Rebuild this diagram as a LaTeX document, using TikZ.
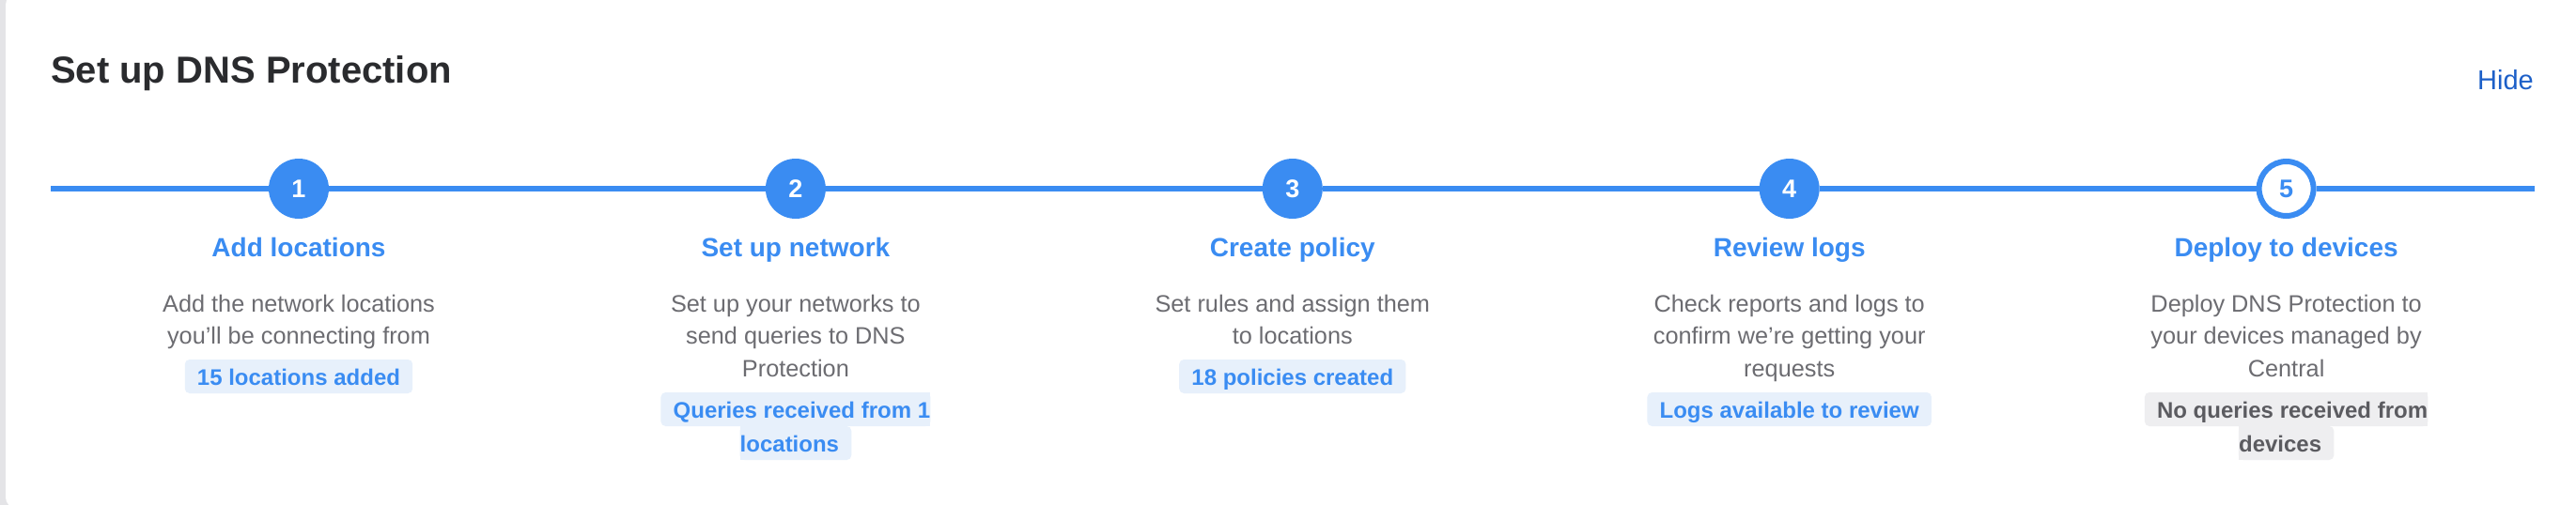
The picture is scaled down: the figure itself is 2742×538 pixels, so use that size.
\documentclass[tikz,border=0pt]{standalone}
\usepackage{fontspec}
\setmainfont{Liberation Sans}
\usetikzlibrary{backgrounds}
\definecolor{stepblue}{HTML}{3A8CF2}
\definecolor{hideblue}{HTML}{1C5FC8}
\definecolor{titledark}{HTML}{2A2B2E}
\definecolor{descgray}{HTML}{6C6C71}
\definecolor{badgeblue}{HTML}{E7F0FB}
\definecolor{badgegray}{HTML}{EEEEF0}
\definecolor{badgegraytext}{HTML}{5B5B60}
\definecolor{shadowgray}{HTML}{E4E4E7}
\tikzset{
  txt/.style={inner sep=0pt, anchor=base},
  maintitle/.style={txt, anchor=base west, text=titledark, font=\fontsize{40}{48}\selectfont\bfseries},
  hidelink/.style={txt, anchor=base east, text=hideblue, font=\fontsize{29}{35}\selectfont},
  steptitle/.style={txt, text=stepblue, font=\fontsize{28}{34}\selectfont\bfseries},
  desc/.style={txt, text=descgray, font=\fontsize{25.3}{30}\selectfont},
  badgetxt/.style={txt, text=stepblue, font=\fontsize{24}{29}\selectfont\bfseries},
  badgegtxt/.style={txt, text=badgegraytext, font=\fontsize{24}{29}\selectfont\bfseries},
  stepdone/.style={circle, fill=stepblue, inner sep=0pt, minimum size=64pt, text=white, font=\fontsize{27}{32}\selectfont\bfseries},
  stepopen/.style={circle, draw=stepblue, line width=6pt, fill=white, inner sep=0pt, minimum size=58pt, text=stepblue, font=\fontsize{27}{32}\selectfont\bfseries},
  track/.style={stepblue, line width=6pt},
}
\begin{document}
\begin{tikzpicture}[x=1pt,y=-1pt]
\useasboundingbox (0,0) rectangle (2742,538);
\begin{scope}[on background layer]
  \fill[shadowgray] (0,0) rectangle (2742,538);
  \fill[white, rounded corners=11pt] (6,-6) rectangle (2790,541);
\end{scope}

\node[maintitle] (title) at (54,88.5) {Set up DNS Protection};
\node[hidelink] (hide) at (2697,95.5) {Hide};

% steps
\node[stepdone] (c1) at (318,201) {1};
\node[stepdone] (c2) at (846.9,201) {2};
\node[stepdone] (c3) at (1375.8,201) {3};
\node[stepdone] (c4) at (1904.7,201) {4};
\node[stepopen] (c5) at (2433.6,201) {5};
\coordinate (ls) at (54,201);
\coordinate (le) at (2698,201);
\draw[track] (ls) -- (c1);
\draw[track] (c1) -- (c2);
\draw[track] (c2) -- (c3);
\draw[track] (c3) -- (c4);
\draw[track] (c4) -- (c5);
\draw[track] (c5) -- (le);

% step 1
\node[steptitle] (t1) at (318,273) {Add locations};
\node[desc] (d1a) at (318,332) {Add the network locations};
\node[desc] (d1b) at (318,366.5) {you’ll be connecting from};
\node[badgetxt] (b1) at (318,410) {15 locations added};

% step 2
\node[steptitle] (t2) at (846.9,273) {Set up network};
\node[desc] (d2a) at (846.9,332) {Set up your networks to};
\node[desc] (d2b) at (846.9,366.5) {send queries to DNS};
\node[desc] (d2c) at (846.9,401) {Protection};
\node[badgetxt] (b2a) at (853.4,445) {Queries received from 1};
\node[badgetxt] (b2b) at (840.4,481) {locations};

% step 3
\node[steptitle] (t3) at (1375.8,273) {Create policy};
\node[desc] (d3a) at (1375.8,332) {Set rules and assign them};
\node[desc] (d3b) at (1375.8,366.5) {to locations};
\node[badgetxt] (b3) at (1375.8,410) {18 policies created};

% step 4
\node[steptitle] (t4) at (1904.7,273) {Review logs};
\node[desc] (d4a) at (1904.7,332) {Check reports and logs to};
\node[desc] (d4b) at (1904.7,366.5) {confirm we’re getting your};
\node[desc] (d4c) at (1904.7,401) {requests};
\node[badgetxt] (b4) at (1904.7,445) {Logs available to review};

% step 5
\node[steptitle] (t5) at (2433.6,273) {Deploy to devices};
\node[desc] (d5a) at (2433.6,332) {Deploy DNS Protection to};
\node[desc] (d5b) at (2433.6,366.5) {your devices managed by};
\node[desc] (d5c) at (2433.6,401) {Central};
\node[badgegtxt] (b5a) at (2440.1,445) {No queries received from};
\node[badgegtxt] (b5b) at (2427.1,481) {devices};

% badge backgrounds
\begin{scope}[on background layer]
  \foreach \b in {b1,b3,b4}{
    \fill[badgeblue, rounded corners=5pt] ([xshift=-13pt,yshift=-9pt]\b.base west) rectangle ([xshift=13pt,yshift=27pt]\b.base east);
  }
  % two-line blue badge
  \fill[badgeblue, rounded corners=5pt] ([xshift=-13pt,yshift=-9pt]b2a.base west) rectangle ([yshift=27pt]b2a.base east);
  \fill[badgeblue] ([xshift=-20pt,yshift=-9pt]b2a.base east) rectangle ([yshift=27pt]b2a.base east);
  \fill[badgeblue, rounded corners=5pt] ([yshift=-9pt]b2b.base west) rectangle ([xshift=13pt,yshift=27pt]b2b.base east);
  \fill[badgeblue] ([yshift=-9pt]b2b.base west) rectangle ([xshift=20pt,yshift=27pt]b2b.base west);
  % two-line gray badge
  \fill[badgegray, rounded corners=5pt] ([xshift=-13pt,yshift=-9pt]b5a.base west) rectangle ([yshift=27pt]b5a.base east);
  \fill[badgegray] ([xshift=-20pt,yshift=-9pt]b5a.base east) rectangle ([yshift=27pt]b5a.base east);
  \fill[badgegray, rounded corners=5pt] ([yshift=-9pt]b5b.base west) rectangle ([xshift=13pt,yshift=27pt]b5b.base east);
  \fill[badgegray] ([yshift=-9pt]b5b.base west) rectangle ([xshift=20pt,yshift=27pt]b5b.base west);
\end{scope}
\end{tikzpicture}
\end{document}
